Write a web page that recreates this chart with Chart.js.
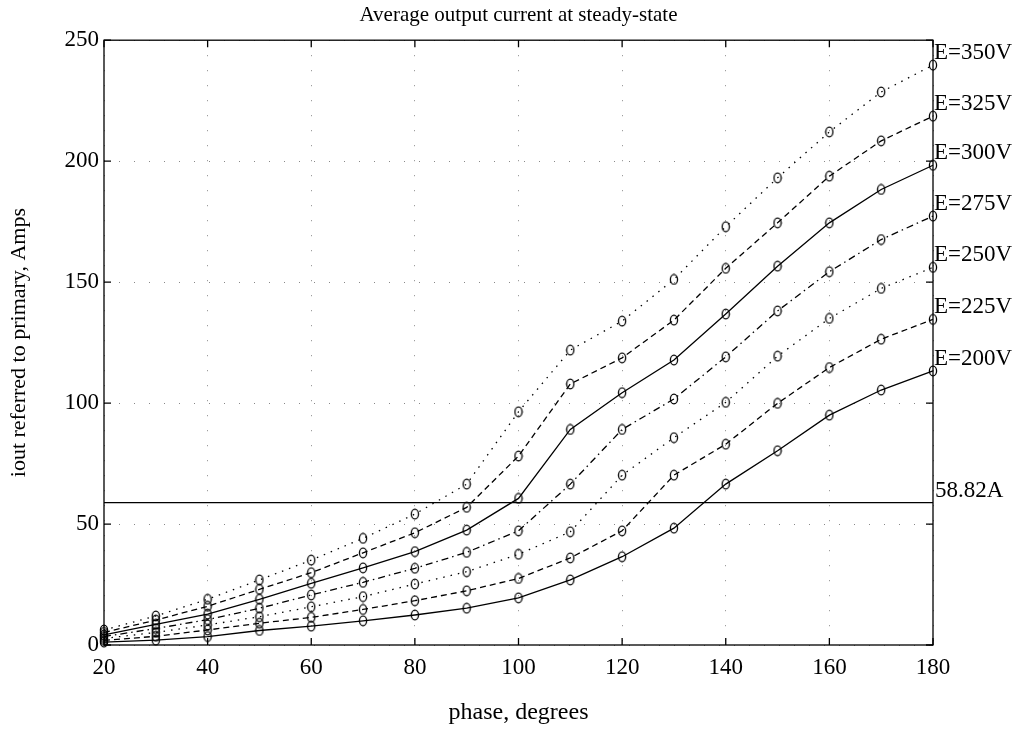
<!DOCTYPE html>
<html>
<head>
<meta charset="utf-8">
<script src="https://cdn.jsdelivr.net/npm/chart.js@4.4.0/dist/chart.umd.min.js"></script>
<style>
  html, body { margin: 0; padding: 0; background: #fff; }
  #wrap { width: 1018px; height: 731px; }
</style>
</head>
<body>
<div id="wrap"><canvas id="myChart" width="1018" height="731"></canvas></div>
<script>
const phase = [20, 30, 40, 50, 60, 70, 80, 90, 100, 110, 120, 130, 140, 150, 160, 170, 180];

const E200 = [1.2, 2.0, 3.5, 6.0, 7.8, 10.0, 12.4, 15.2, 19.5, 26.9, 36.5, 48.3, 66.5, 80.3, 95.0, 105.4, 113.3];
const E225 = [1.9, 3.6, 6.2, 9.0, 11.4, 14.7, 18.3, 22.4, 27.5, 36.0, 47.2, 70.2, 83.0, 99.9, 114.7, 126.4, 134.6];
const E250 = [2.7, 5.2, 8.3, 11.7, 15.8, 20.0, 25.2, 30.3, 37.5, 46.8, 70.2, 85.7, 100.3, 119.4, 135.0, 147.4, 156.1];
const E275 = [3.5, 6.8, 10.5, 15.2, 20.7, 25.9, 31.7, 38.3, 47.2, 66.5, 89.1, 101.7, 119.1, 138.1, 154.3, 167.6, 177.3];
const E300 = [4.2, 8.5, 12.8, 18.9, 25.5, 31.9, 38.6, 47.5, 60.6, 89.1, 104.3, 117.8, 136.8, 156.6, 174.5, 188.3, 198.3];
const E325 = [5.2, 10.3, 16.0, 23.0, 29.9, 38.1, 46.4, 56.9, 78.1, 107.9, 118.7, 134.3, 155.7, 174.5, 193.8, 208.4, 218.6];
const E350 = [6.2, 12.0, 18.9, 26.9, 35.1, 44.1, 54.1, 66.5, 96.4, 121.9, 133.9, 151.1, 172.9, 193.1, 212.1, 228.6, 239.7];

const seriesLabels = ['E=200V', 'E=225V', 'E=250V', 'E=275V', 'E=300V', 'E=325V', 'E=350V'];
const seriesData = [E200, E225, E250, E275, E300, E325, E350];

const limitValue = 58.82;
const limitLabel = '58.82A';

const xTicks = [20, 40, 60, 80, 100, 120, 140, 160, 180];
const yTicks = [0, 50, 100, 150, 200, 250];

const SERIF = "'Liberation Serif', 'DejaVu Serif', serif";

// little "o" marker, a bit taller than wide like in the scan
var marker = document.createElement('canvas');
marker.width = 10;
marker.height = 12;
var mctx = marker.getContext('2d');
mctx.strokeStyle = '#000';
mctx.lineWidth = 1.3;
mctx.beginPath();
mctx.ellipse(5, 6, 3.6, 4.9, 0, 0, Math.PI * 2);
mctx.stroke();

var dashes = [[], [6, 4], [1.5, 6], [7, 4, 1.5, 4], [], [6, 4], [1.5, 6]];

var datasets = seriesData.map((vals, i) => ({
    label: seriesLabels[i],
    data: vals.map((v, j) => ({ x: phase[j], y: v })),
    borderColor: '#000',
    borderWidth: 1.3,
    borderDash: dashes[i],
    pointStyle: marker,
    pointRadius: 5,
    fill: false,
    tension: 0,
    clip: false
}));

datasets.push({
    label: limitLabel,
    data: [{ x: phase[0], y: limitValue }, { x: phase[phase.length - 1], y: limitValue }],
    borderColor: '#000',
    borderWidth: 1.3,
    pointRadius: 0,
    fill: false,
    clip: false
});

const boxPlugin = {
    id: 'boxPlugin',
    afterDatasetsDraw(chart) {
        const ctx = chart.ctx;
        const a = chart.chartArea;
        const xs = chart.scales.x;
        const ys = chart.scales.y;
        ctx.save();
        ctx.strokeStyle = '#000';
        ctx.lineWidth = 1.3;
        ctx.strokeRect(a.left, a.top, a.right - a.left, a.bottom - a.top);
        ctx.beginPath();
        xTicks.forEach(t => {
            var px = xs.getPixelForValue(t);
            ctx.moveTo(px, a.bottom); ctx.lineTo(px, a.bottom - 7);
            ctx.moveTo(px, a.top); ctx.lineTo(px, a.top + 7);
        });
        yTicks.forEach(t => {
            var py = ys.getPixelForValue(t);
            ctx.moveTo(a.left, py); ctx.lineTo(a.left + 7, py);
            ctx.moveTo(a.right, py); ctx.lineTo(a.right - 7, py);
        });
        ctx.stroke();

        ctx.fillStyle = '#000';
        ctx.font = '23px ' + SERIF;
        ctx.textAlign = 'left';
        ctx.textBaseline = 'middle';
        seriesData.forEach((vals, i) => {
            var py = ys.getPixelForValue(vals[vals.length - 1]);
            ctx.fillText(seriesLabels[i], a.right + 1, py - 12);
        });
        ctx.fillText(limitLabel, a.right + 2, ys.getPixelForValue(limitValue) - 12);
        ctx.restore();
    }
};

const ctx = document.getElementById('myChart').getContext('2d');

var myChart = new Chart(ctx, {
    type: 'line',
    data: { datasets: datasets },
    options: {
        responsive: false,
        animation: false,
        events: [],
        layout: { padding: { left: 0, right: 85, top: 0, bottom: 0 } },
        scales: {
            x: {
                type: 'linear',
                min: 20,
                max: 180,
                afterBuildTicks: function (scale) {
                    scale.ticks = xTicks.map(v => ({ value: v }));
                },
                afterFit: function (scale) { scale.height = 86; },
                ticks: {
                    color: '#000',
                    font: { family: SERIF, size: 23 },
                    padding: 9,
                    maxRotation: 0
                },
                grid: { color: '#888', lineWidth: 1, drawTicks: false },
                border: { display: false, dash: [1, 14] },
                title: {
                    display: true,
                    text: 'phase, degrees',
                    color: '#000',
                    font: { family: SERIF, size: 24 },
                    padding: { top: 0, bottom: 4 }
                }
            },
            y: {
                type: 'linear',
                min: 0,
                max: 250,
                afterBuildTicks: function (scale) {
                    scale.ticks = yTicks.map(v => ({ value: v }));
                },
                afterFit: function (scale) { scale.width = 104; },
                ticks: {
                    color: '#000',
                    font: { family: SERIF, size: 23 },
                    padding: 5
                },
                grid: { color: '#888', lineWidth: 1, drawTicks: false },
                border: { display: false, dash: [1, 14] },
                title: {
                    display: true,
                    text: 'iout referred to primary, Amps',
                    color: '#000',
                    font: { family: SERIF, size: 22 },
                    padding: { top: 6, bottom: 0 }
                }
            }
        },
        plugins: {
            legend: { display: false },
            tooltip: { enabled: false },
            title: {
                display: true,
                fullSize: false,
                text: 'Average output current at steady-state',
                color: '#000',
                font: { family: SERIF, size: 21, weight: 'normal' },
                padding: { top: 3, bottom: 12 }
            }
        }
    },
    plugins: [boxPlugin]
});
</script>
</body>
</html>
